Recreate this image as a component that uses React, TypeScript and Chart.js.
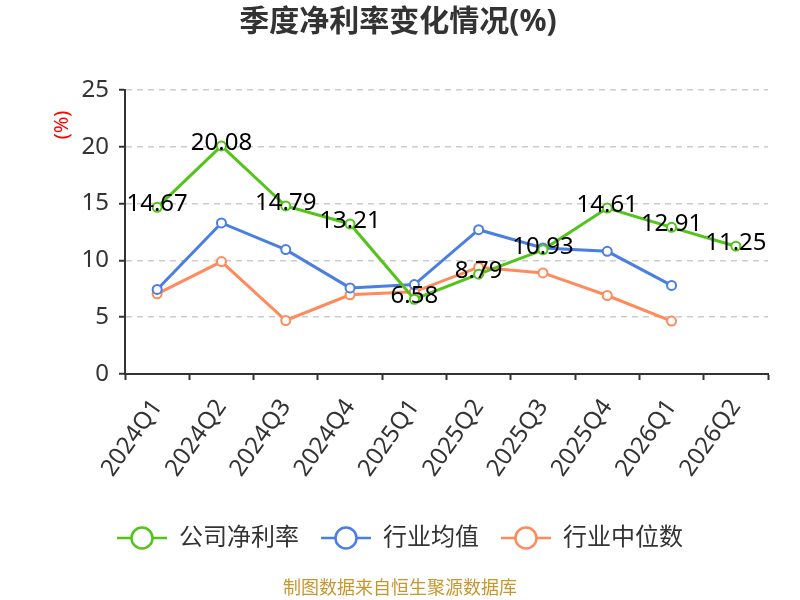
import { useEffect, useRef } from "react";
import { Chart, registerables, type Plugin } from "chart.js";

Chart.register(...registerables);

const FONT = '"Noto Sans", "Noto Sans CJK SC", sans-serif';

const quarters = [
  "2024Q1", "2024Q2", "2024Q3", "2024Q4", "2025Q1",
  "2025Q2", "2025Q3", "2025Q4", "2026Q1", "2026Q2",
];
const companyMargin = [14.67, 20.08, 14.79, 13.21, 6.58, 8.79, 10.93, 14.61, 12.91, 11.25];
const industryMean = [7.44, 13.3, 10.95, 7.58, 7.87, 12.7, 11.1, 10.8, 7.8, null];
const industryMedian = [7.06, 9.9, 4.71, 6.97, 7.23, 9.4, 8.9, 6.91, 4.66, null];
const seriesNames = ["公司净利率", "行业均值", "行业中位数"];
const seriesColors = ["#52C41A", "#4A7EE3", "#FF8A5B"];

function makeIcon(color: string) {
  const c = document.createElement("canvas");
  c.width = 50;
  c.height = 26;
  const ctx = c.getContext("2d")!;
  ctx.strokeStyle = color;
  ctx.lineWidth = 2.5;
  ctx.beginPath();
  ctx.moveTo(0, 13);
  ctx.lineTo(50, 13);
  ctx.stroke();
  ctx.beginPath();
  ctx.arc(25, 13, 10.5, 0, Math.PI * 2);
  ctx.fillStyle = "#fff";
  ctx.fill();
  ctx.stroke();
  return c;
}

// value labels on the company series
const valueLabels: Plugin<"line"> = {
  id: "valueLabels",
  afterDatasetsDraw(chart) {
    const ctx = chart.ctx;
    const meta = chart.getDatasetMeta(0);
    ctx.save();
    ctx.font = `24px ${FONT}`;
    ctx.fillStyle = "#000";
    ctx.textAlign = "center";
    ctx.textBaseline = "middle";
    meta.data.forEach((pt, i) => {
      ctx.fillText(companyMargin[i].toFixed(2), pt.x, pt.y - 3);
    });
    ctx.restore();
  },
};

// title, unit label and source note
const extras: Plugin<"line"> = {
  id: "extras",
  afterDraw(chart) {
    const ctx = chart.ctx;
    ctx.save();
    ctx.font = `bold 30px ${FONT}`;
    ctx.fillStyle = "#333";
    ctx.textAlign = "center";
    ctx.textBaseline = "middle";
    ctx.fillText("季度净利率变化情况(%)", 398, 22);
    ctx.restore();

    ctx.save();
    ctx.translate(62, 125);
    ctx.rotate(-Math.PI / 2);
    ctx.font = `20px ${FONT}`;
    ctx.fillStyle = "#FF0000";
    ctx.textAlign = "center";
    ctx.textBaseline = "middle";
    ctx.fillText("(%)", 0, 0);
    ctx.restore();

    ctx.save();
    ctx.font = `18px ${FONT}`;
    ctx.fillStyle = "#C8962E";
    ctx.textAlign = "center";
    ctx.textBaseline = "middle";
    ctx.fillText("制图数据来自恒生聚源数据库", 400, 589);
    ctx.restore();
  },
};

export default function App() {
  const canvasRef = useRef<HTMLCanvasElement>(null);
  const chartRef = useRef<Chart | null>(null);

  useEffect(() => {
    document.body.style.margin = "0";
    if (!canvasRef.current) return;
    chartRef.current?.destroy();

    const icons = seriesColors.map(makeIcon);
    const series = [companyMargin, industryMean, industryMedian];

    chartRef.current = new Chart(canvasRef.current, {
      type: "line",
      data: {
        labels: quarters,
        datasets: series.map((values, i) => ({
          label: seriesNames[i],
          data: values,
          borderColor: seriesColors[i],
          backgroundColor: "#fff",
          borderWidth: 3,
          pointRadius: 4.5,
          pointBorderWidth: 2,
          pointBackgroundColor: "#fff",
          pointBorderColor: seriesColors[i],
          tension: 0,
        })),
      },
      options: {
        responsive: false,
        animation: false,
        layout: { padding: { top: 90, right: 0, bottom: 40, left: 0 } },
        plugins: {
          title: { display: false },
          legend: {
            position: "bottom",
            labels: {
              usePointStyle: true,
              pointStyleWidth: 50,
              color: "#333",
              font: { family: FONT, size: 24 },
              padding: 22,
              generateLabels: (chart) =>
                Chart.defaults.plugins.legend.labels
                  .generateLabels(chart)
                  .map((item, i) => ({ ...item, pointStyle: icons[i] as any })),
            },
          },
          tooltip: { enabled: false },
        },
        scales: {
          x: {
            offset: true,
            grid: {
              offset: true,
              drawOnChartArea: false,
              drawTicks: true,
              tickLength: 6,
              tickColor: "#333",
              tickWidth: 2,
            },
            border: { color: "#333", width: 2 },
            ticks: {
              color: "#333",
              font: { family: FONT, size: 24 },
              minRotation: 55,
              maxRotation: 55,
              padding: 14,
            },
            afterFit: (scale) => {
              scale.height = 130;
            },
          },
          y: {
            min: 0,
            max: 25,
            grid: {
              color: "#CCCCCC",
              lineWidth: 1.5,
              tickLength: 6,
              tickColor: "#333",
              tickWidth: 2,
            },
            border: { color: "#333", width: 2, dash: [6, 5] },
            ticks: {
              stepSize: 5,
              color: "#333",
              font: { family: FONT, size: 24 },
              padding: 10,
            },
            afterFit: (scale) => {
              scale.width = 125;
            },
          },
          // empty right-hand axis that reserves the right margin
          yRight: {
            position: "right",
            min: 0,
            max: 25,
            grid: { display: false },
            border: { display: false },
            ticks: { display: false },
            afterFit: (scale) => {
              scale.width = 32;
            },
          },
        },
      },
      plugins: [valueLabels, extras],
    });

    return () => {
      chartRef.current?.destroy();
      chartRef.current = null;
    };
  }, []);

  return (
    <div style={{ width: 800, height: 600 }}>
      <canvas ref={canvasRef} width={800} height={600} />
    </div>
  );
}
